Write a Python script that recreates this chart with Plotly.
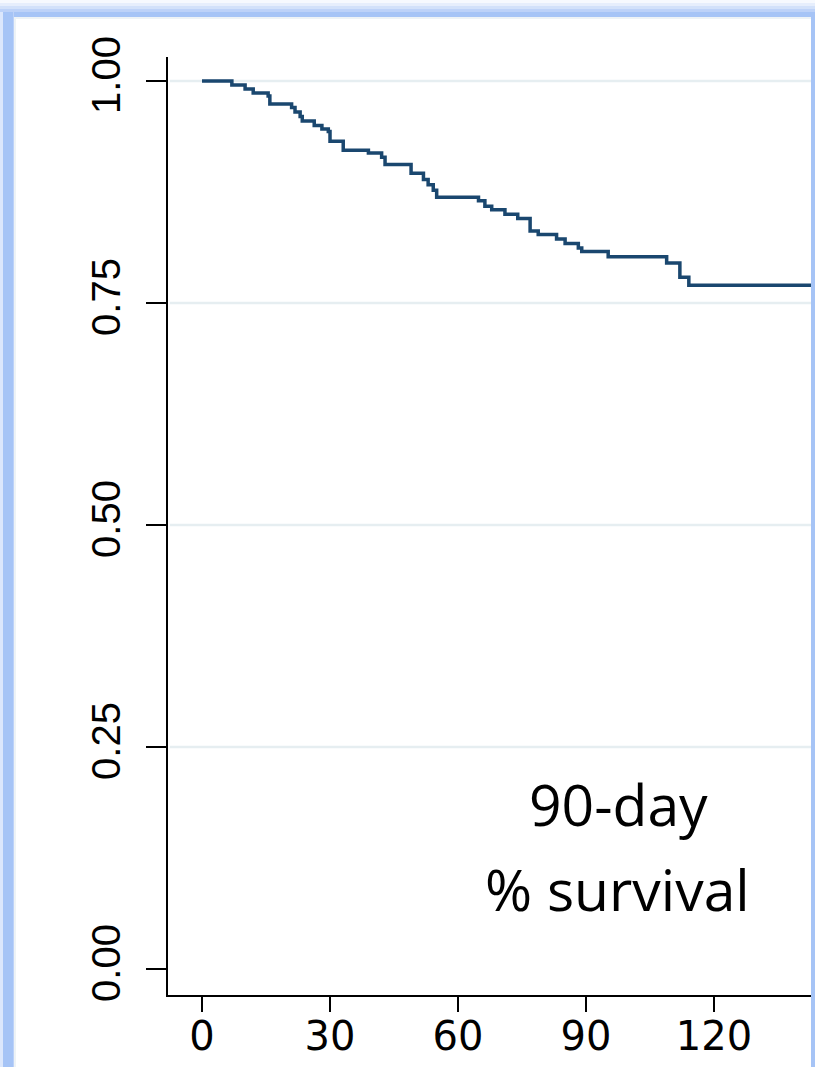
import plotly.graph_objects as go

# Kaplan-Meier step data (days, survival probability after step)
days = [0, 7.0, 10.1, 12.0, 15.5, 15.9, 21.0, 21.8, 23.0, 23.5, 26.3, 28.1, 29.6, 30.0,
        33.1, 39.0, 42.1, 42.9, 49.0, 51.9, 53.0, 54.2, 55.0, 64.8, 66.3, 67.9, 71.0,
        74.0, 76.9, 78.8, 83.1, 85.1, 88.2, 89.0, 95.2, 108.9, 112.0, 114.1, 150.0]
survival = [1.0, 0.9955, 0.991, 0.9865, 0.983, 0.974, 0.970, 0.965, 0.960, 0.955, 0.950,
            0.946, 0.943, 0.932, 0.922, 0.919, 0.914, 0.906, 0.896, 0.889, 0.883, 0.877,
            0.869, 0.865, 0.859, 0.855, 0.850, 0.845, 0.831, 0.827, 0.822, 0.817, 0.812,
            0.808, 0.802, 0.795, 0.779, 0.770, 0.770]

x_ticks = [0, 30, 60, 90, 120]
x_tick_labels = ["0", "30", "60", "90", "120"]
y_ticks = [0.0, 0.25, 0.5, 0.75, 1.0]
y_tick_labels = ["0.00", "0.25", "0.50", "0.75", "1.00"]
grid_values = [0.25, 0.5, 0.75, 1.0]
annotation_lines = ["90-day", "% survival"]

W, H = 815, 1067
L, R, T, B = 168, 0, 57, 72
PW, PH = W - L - R, H - T - B


def px(x):
    return (x - L) / PW


def py(y):
    return (H - B - y) / PH


fig = go.Figure()
fig.add_trace(go.Scatter(
    x=days, y=survival, mode="lines", line=dict(shape="hv", color="#1a476f", width=3.5),
    hoverinfo="skip", showlegend=False,
))

shapes = []
for g in grid_values:
    shapes.append(dict(type="line", xref="paper", yref="y", x0=0.003, x1=1, y0=g, y1=g,
                       line=dict(color="#e6eef1", width=2.5), layer="below"))

blue = "#a6c4f6"
# top band gradient
top_stripes = [(0, 3, "#f6f9fe"), (3, 6, "#e6eefc"), (6, 9, "#d2e1fa"),
               (9, 12, "#bdd2f8"), (12, 17, blue)]
for y0, y1, c in top_stripes:
    shapes.append(dict(type="rect", xref="paper", yref="paper", x0=px(0), x1=px(W),
                       y0=py(y1), y1=py(y0), fillcolor=c, line=dict(width=0), layer="above"))
# inner light line
shapes.append(dict(type="rect", xref="paper", yref="paper", x0=px(14), x1=px(811),
                   y0=py(19), y1=py(17), fillcolor="#eef3f6", line=dict(width=0), layer="above"))
shapes.append(dict(type="rect", xref="paper", yref="paper", x0=px(14), x1=px(16),
                   y0=py(H), y1=py(17), fillcolor="#eef3f6", line=dict(width=0), layer="above"))
# left strip
left_stripes = [(0, 3, "#dce7fc"), (3, 13, blue), (13, 14, "#bdd2f8")]
for x0, x1, c in left_stripes:
    shapes.append(dict(type="rect", xref="paper", yref="paper", x0=px(x0), x1=px(x1),
                       y0=py(H), y1=py(12), fillcolor=c, line=dict(width=0), layer="above"))
# right strip
shapes.append(dict(type="rect", xref="paper", yref="paper", x0=px(811), x1=px(W),
                   y0=py(H), y1=py(12), fillcolor=blue, line=dict(width=0), layer="above"))

annotations = [
    dict(text=annotation_lines[0], xref="paper", yref="paper", x=px(618), y=py(804),
         showarrow=False, font=dict(family="Open Sans", size=57, color="black"),
         xanchor="center", yanchor="middle"),
    dict(text=annotation_lines[1], xref="paper", yref="paper", x=px(617), y=py(889),
         showarrow=False, font=dict(family="Open Sans", size=57, color="black"),
         xanchor="center", yanchor="middle"),
]

fig.update_layout(
    width=W, height=H,
    margin=dict(l=L, r=R, t=T, b=B, pad=0),
    paper_bgcolor="white", plot_bgcolor="white",
    shapes=shapes, annotations=annotations,
    xaxis=dict(range=[-7.97, 143.67], tickvals=x_ticks, ticktext=x_tick_labels,
               showgrid=False, zeroline=False, showline=True, linecolor="black", linewidth=2,
               ticks="outside", ticklen=15, tickwidth=2, tickcolor="black",
               ticklabelstandoff=-10,
               tickfont=dict(family="DejaVu Sans", size=40, color="black")),
    yaxis=dict(range=[-0.0293, 1.027], tickvals=y_ticks, ticktext=y_tick_labels,
               showgrid=False, zeroline=False, showline=True, linecolor="black", linewidth=2,
               ticks="outside", ticklen=20, tickwidth=2, tickcolor="black", tickangle=-90,
               ticklabelstandoff=10,
               tickfont=dict(family="Arial", size=40, color="black")),
)

fig.write_html("out.html", post_script="document.body.style.margin='0';",
               config={"displayModeBar": False})
